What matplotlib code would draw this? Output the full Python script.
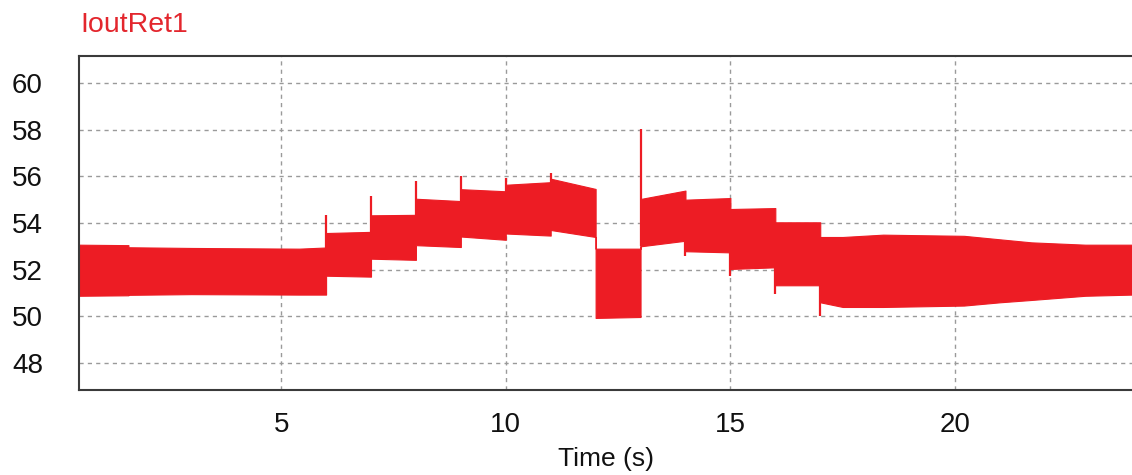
import matplotlib
matplotlib.use("Agg")
import matplotlib.pyplot as plt

plt.rcParams["font.family"] = ["Liberation Sans", "DejaVu Sans"]

# Envelope of the ripple current: time (s), upper and lower bounds (A)
env_t = [0.5, 1.6, 1.6, 3.0, 5.4, 6.0,
         6.0, 7.0, 7.0, 8.0, 8.0, 9.0, 9.0, 10.0, 10.0, 11.0, 11.0, 12.0,
         12.0, 13.0, 13.0, 14.0, 14.0, 15.0, 15.0, 16.0, 16.0, 17.0,
         17.0, 17.5, 18.4, 20.2, 21.0, 21.7, 22.9, 23.94]
env_hi = [53.07, 53.05, 52.96, 52.93, 52.90, 52.95,
          53.57, 53.62, 54.33, 54.35, 55.04, 54.94, 55.45, 55.36, 55.64, 55.75, 55.90, 55.46,
          52.90, 52.90, 55.03, 55.39, 55.00, 55.07, 54.60, 54.64, 54.03, 54.03,
          53.40, 53.40, 53.50, 53.45, 53.30, 53.17, 53.07, 53.07]
env_lo = [50.88, 50.90, 50.92, 50.95, 50.93, 50.93,
          51.74, 51.70, 52.47, 52.42, 53.05, 52.97, 53.42, 53.28, 53.55, 53.46, 53.70, 53.40,
          49.93, 49.97, 53.00, 53.24, 52.79, 52.74, 52.03, 52.10, 51.33, 51.33,
          50.60, 50.40, 50.40, 50.46, 50.60, 50.70, 50.88, 50.93]

# Switching transients: upward and downward overshoot peaks
spike_up_t = [6, 7, 8, 9, 10, 11, 13]
spike_up_v = [54.36, 55.15, 55.80, 56.03, 55.95, 56.14, 58.05]
spike_dn_t = [14, 15, 16, 17]
spike_dn_v = [52.57, 51.71, 50.96, 50.03]

x_ticks = [5, 10, 15, 20]
y_ticks = [48, 50, 52, 54, 56, 58, 60]

red = "#ED1C24"


def band_at(t, values, pick):
    """Envelope value(s) at a switching instant, reduced with `pick`."""
    return pick(v for tt, v in zip(env_t, values) if tt == t)


fig = plt.figure(figsize=(11.32, 4.75), dpi=100)
ax = fig.add_axes([79 / 1132, 1 - 390 / 475, 1 - 79 / 1132, (390 - 56) / 475])

ax.fill_between(env_t, env_lo, env_hi, color=red, linewidth=0.8, edgecolor=red)

# Overshoots start from inside the band so no stub shows past its far edge
up_base = [band_at(t, env_lo, max) for t in spike_up_t]
dn_base = [band_at(t, env_hi, min) for t in spike_dn_t]
ax.vlines(spike_up_t, up_base, spike_up_v, color=red, linewidth=1.6)
ax.vlines(spike_dn_t, dn_base, spike_dn_v, color=red, linewidth=1.6)

ax.set_xlim(0.5, 23.94)
ax.set_ylim(46.84, 61.16)
ax.set_xticks(x_ticks)
ax.set_yticks(y_ticks)
ax.grid(True, color="#9a9a9a", linestyle=(0, (3, 3)), linewidth=1.0)
ax.set_axisbelow(True)

ax.tick_params(axis="both", length=0, labelsize=20, colors="#111111")
ax.tick_params(axis="y", pad=26)
ax.tick_params(axis="x", pad=16)
ax.set_xlabel("Time (s)", fontsize=19, labelpad=6, color="#111111")

for side in ("left", "bottom", "top"):
    ax.spines[side].set_color("#3a3a3a")
    ax.spines[side].set_linewidth(1.5)
ax.spines["right"].set_visible(False)

fig.text(80 / 1132, 1 - 32 / 475, "IoutRet1", color="#E3262D", fontsize=20.5,
         ha="left", va="baseline")

fig.savefig("out.png", dpi=100)
